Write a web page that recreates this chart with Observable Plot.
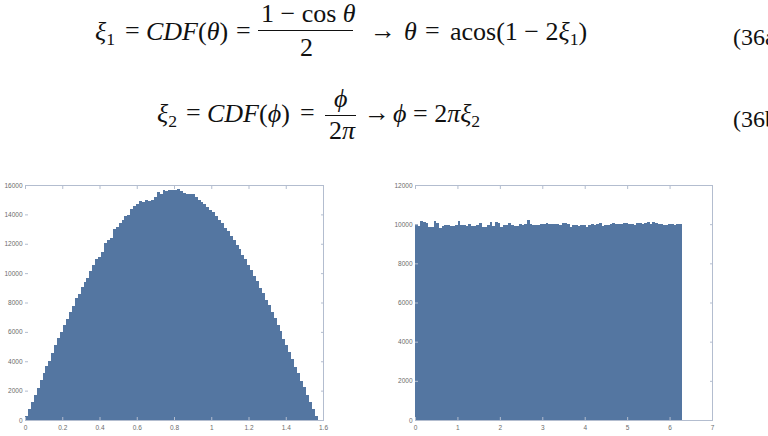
<!DOCTYPE html>
<html>
<head>
<meta charset="utf-8">
<script src="https://cdn.jsdelivr.net/npm/d3@7"></script>
<script src="https://cdn.jsdelivr.net/npm/@observablehq/plot@0.6"></script>
<style>
  html, body { margin: 0; padding: 0; background: #fff; }
  #page { position: relative; width: 768px; height: 436px; overflow: hidden; background: #fff; }
  .m { position: absolute; white-space: nowrap; font-family: "Liberation Serif", "DejaVu Serif", serif; font-size: 26px; color: #111; line-height: 1; transform: translateY(-50%); }
  .m i { font-style: italic; }
  .m sub { font-size: 0.68em; vertical-align: -0.28em; line-height: 0; }
  .bar { position: absolute; height: 0; border-top: 1.4px solid #111; }
  .num { position: absolute; white-space: nowrap; font-family: "Liberation Serif", "DejaVu Serif", serif; font-size: 24px; color: #111; line-height: 1; transform: translateY(-50%); }
  .chart { position: absolute; }
</style>
</head>
<body>
<div id="page">
  <!-- Equation 36a -->
  <span class="m" style="left:95px; top:32px"><i>ξ</i><sub>1</sub></span>
  <span class="m" style="left:125px; top:31px">=</span>
  <span class="m" style="left:146px; top:32px"><i>CDF</i>(<i>θ</i>)</span>
  <span class="m" style="left:236px; top:31px">=</span>
  <span class="m" style="left:261px; top:14px">1 − cos <i>θ</i></span>
  <div class="bar" style="left:258px; top:30px; width:95px"></div>
  <span class="m" style="left:300px; top:48px">2</span>
  <span class="m" style="left:370px; top:31px">→</span>
  <span class="m" style="left:404px; top:32px"><i>θ</i></span>
  <span class="m" style="left:425px; top:31px">=</span>
  <span class="m" style="left:450px; top:32px">acos(1 − 2<i>ξ</i><sub>1</sub>)</span>
  <span class="num" style="left:733px; top:37px">(36a</span>

  <!-- Equation 36b -->
  <span class="m" style="left:157px; top:114px"><i>ξ</i><sub>2</sub></span>
  <span class="m" style="left:186px; top:113px">=</span>
  <span class="m" style="left:207px; top:114px"><i>CDF</i>(<i>ϕ</i>)</span>
  <span class="m" style="left:300px; top:113px">=</span>
  <span class="m" style="left:334px; top:99px"><i>ϕ</i></span>
  <div class="bar" style="left:325px; top:115px; width:31px"></div>
  <span class="m" style="left:329px; top:131px">2<i>π</i></span>
  <span class="m" style="left:364px; top:113px">→</span>
  <span class="m" style="left:393px; top:114px"><i>ϕ</i> = 2<i>π</i><i>ξ</i><sub>2</sub></span>
  <span class="num" style="left:733px; top:119px">(36b</span>

  <div id="left" class="chart" style="left:0px; top:175px"></div>
  <div id="right" class="chart" style="left:380px; top:175px"></div>
</div>
<script>
// Histogram of theta samples (100 bins over [0, pi/2])
const thetaCounts = [
  240, 760, 1230, 1690, 2180, 2720, 3210, 3660, 3990, 4580,
  5080, 5560, 6010, 6490, 6900, 7360, 7780, 8310, 8580, 9070,
  9400, 9680, 10120, 10560, 10950, 11120, 11430, 12030, 12270, 12400,
  13020, 13150, 13380, 13640, 13860, 13930, 14380, 14560, 14720, 14910,
  14860, 14960, 14880, 15010, 15180, 15490, 15420, 15640, 15590, 15660,
  15640, 15690, 15760, 15620, 15480, 15420, 15400, 15380, 15150, 14990,
  14870, 14680, 14520, 14290, 14130, 13860, 13610, 13420, 13080, 12870,
  12530, 12270, 11910, 11640, 11250, 10950, 10540, 10220, 9790, 9440,
  9000, 8640, 8180, 7800, 7320, 6930, 6440, 6030, 5530, 5100,
  4600, 4160, 3640, 3200, 2680, 2230, 1700, 1250, 720, 260
];
const thetaRange = [0, Math.PI / 2];

// Histogram of phi samples (100 bins over [0, 2pi])
const phiCounts = [
  10020, 9900, 10180, 10110, 10040, 9830, 9850, 10140, 10060, 9800,
  9900, 9960, 9980, 9930, 9890, 9960, 10160, 9940, 9980, 9930,
  9990, 9910, 9900, 9940, 10060, 9880, 9850, 9960, 10090, 9900,
  10100, 10050, 9870, 9940, 9970, 10040, 9950, 9930, 9920, 10010,
  9940, 10030, 10190, 10020, 9970, 9960, 9940, 10030, 9990, 10060,
  10010, 10020, 9990, 10030, 9980, 10040, 10050, 9990, 9840, 9940,
  9970, 9930, 9980, 9950, 9880, 9940, 9990, 9960, 10000, 10060,
  9890, 9940, 9980, 10000, 10050, 9990, 10020, 10010, 10040, 10060,
  10030, 10020, 9970, 10080, 10060, 10000, 10050, 10090, 10010, 10120,
  10060, 10030, 10010, 9980, 9960, 10010, 10000, 9970, 10030, 10010
];
const phiRange = [0, 2 * Math.PI];

const leftXTicks = [0, 0.2, 0.4, 0.6, 0.8, 1, 1.2, 1.4, 1.6];
const leftYTicks = [0, 2000, 4000, 6000, 8000, 10000, 12000, 14000, 16000];
const rightXTicks = [0, 1, 2, 3, 4, 5, 6, 7];
const rightYTicks = [0, 2000, 4000, 6000, 8000, 10000, 12000];

const barColor = "#5476a1";
const frameColor = "#b3bdcf";
const fmt = d => String(+d.toFixed(1));

function hist(counts, range, xTicks, yTicks, dims) {
  const w = (range[1] - range[0]) / counts.length;
  const data = counts.map((c, i) => ({x1: range[0] + i * w, x2: range[0] + (i + 1) * w, y: c}));
  const xMax = xTicks[xTicks.length - 1];
  const yMax = yTicks[yTicks.length - 1];
  return Plot.plot({
    width: dims.width,
    height: dims.height,
    marginLeft: dims.marginLeft,
    marginRight: dims.marginRight,
    marginTop: dims.marginTop,
    marginBottom: dims.marginBottom,
    style: {fontFamily: "Liberation Sans, Arial, sans-serif", fontSize: "6.5px", color: "#6b6b6b", background: "transparent"},
    x: {domain: [xTicks[0], xMax]},
    y: {domain: [0, yMax]},
    marks: [
      Plot.rectY(data, {x1: "x1", x2: "x2", y: "y", fill: barColor, shapeRendering: "crispEdges"}),
      Plot.ruleY([yMax], {stroke: frameColor, strokeWidth: 1}),
      Plot.ruleY([0], {stroke: frameColor, strokeWidth: 1}),
      Plot.ruleX([xMax], {stroke: frameColor, strokeWidth: 1}),
      Plot.axisX(xTicks, {anchor: "bottom", tickSize: 0, tickPadding: 5, tickFormat: fmt, label: null}),
      Plot.axisY(yTicks, {anchor: "left", tickSize: 0, tickPadding: 3, tickFormat: d => String(d), label: null}),
      Plot.axisX(xTicks, {anchor: "bottom", tickSize: 3, dy: -3, tickFormat: () => "", stroke: frameColor, label: null}),
      Plot.axisX(xTicks, {anchor: "top", tickSize: 3, dy: 3, tickFormat: () => "", stroke: frameColor, label: null}),
      Plot.axisY(yTicks, {anchor: "left", tickSize: 3, dx: 3, tickFormat: () => "", stroke: frameColor, label: null}),
      Plot.axisY(yTicks, {anchor: "right", tickSize: 3, dx: -3, tickFormat: () => "", stroke: frameColor, label: null})
    ]
  });
}

document.getElementById("left").append(
  hist(thetaCounts, thetaRange, leftXTicks, leftYTicks,
    {width: 340, height: 261, marginLeft: 25, marginRight: 17, marginTop: 10, marginBottom: 16})
);
document.getElementById("right").append(
  hist(phiCounts, phiRange, rightXTicks, rightYTicks,
    {width: 352, height: 261, marginLeft: 35, marginRight: 20, marginTop: 10, marginBottom: 16})
);
</script>
</body>
</html>
